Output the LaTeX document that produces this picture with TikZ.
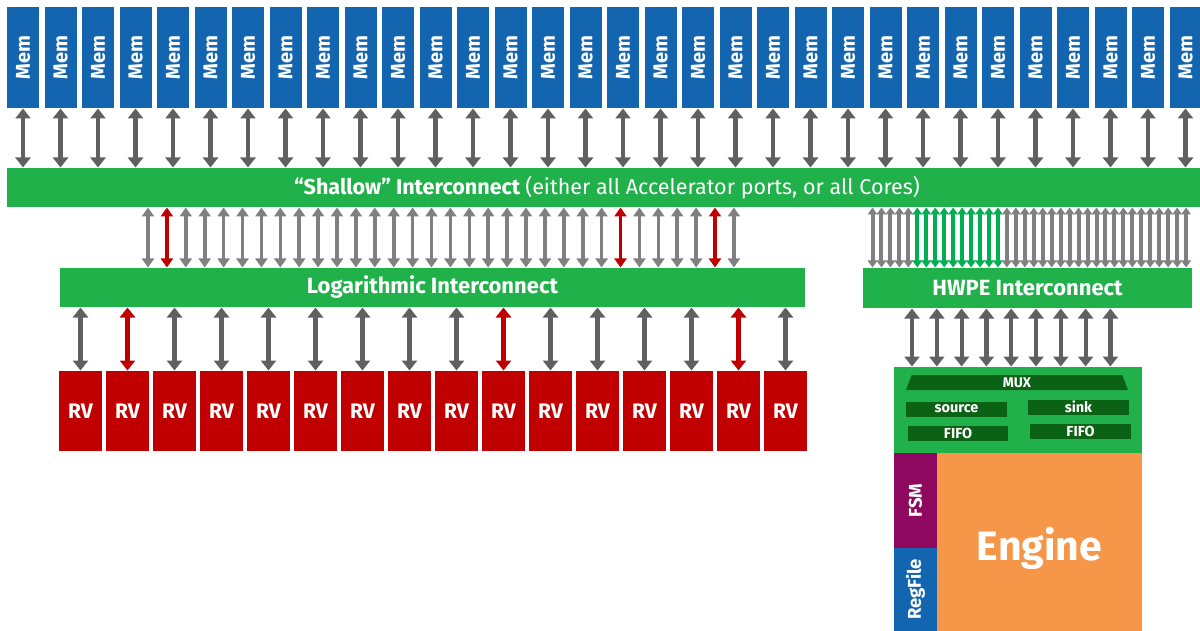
\documentclass[tikz,border=0pt]{standalone}
\usepackage{fontspec}
\setmainfont{Fira Sans}
\usetikzlibrary{arrows.meta,shapes.geometric}
\definecolor{MemBlue}{RGB}{20,101,176}
\definecolor{NetGreen}{RGB}{33,177,75}
\definecolor{LinkGreen}{RGB}{0,176,80}
\definecolor{DeepGreen}{RGB}{12,98,20}
\definecolor{CoreRed}{RGB}{192,0,0}
\definecolor{LinkDark}{RGB}{96,96,96}
\definecolor{LinkLight}{RGB}{128,128,128}
\definecolor{FsmPurple}{RGB}{142,8,96}
\definecolor{EngOrange}{RGB}{246,150,72}
\newcommand{\fsz}[1]{\fontsize{#1}{#1}\selectfont}
\tikzset{
    soc/diagram/.style={
        x=1pt, y=-1pt,
        every node/.style={inner sep=0pt, outer sep=0pt, text=white, font=\bfseries}
    },
    soc/block/.style={draw=none, rectangle},
    soc/mem/.style={soc/block, fill=MemBlue, minimum width=32pt, minimum height=101pt, font=\bfseries\fsz{20}},
    soc/core/.style={soc/block, fill=CoreRed, minimum width=43pt, minimum height=80pt, font=\bfseries\fsz{21}},
    soc/net/.style={soc/block, fill=NetGreen, minimum height=39pt, font=\bfseries\fsz{22}},
    soc/fifo/.style={soc/block, fill=DeepGreen, minimum width=101pt, minimum height=15pt, font=\bfseries\fsz{14.5}},
    soc/side/.style={soc/block, minimum width=43pt, font=\bfseries\fsz{18.5}},
    soc/link/.style={
        line width=4.2pt, shorten >=0.5pt, shorten <=0.5pt,
        {Triangle[length=10pt, width=15pt]}-{Triangle[length=10pt, width=15pt]}
    },
    soc/thin/.style={
        line width=3.6pt, shorten >=0.5pt, shorten <=0.5pt,
        {Triangle[length=9pt, width=12pt]}-{Triangle[length=9pt, width=12pt]}
    },
    soc/port/.style={
        line width=4pt, shorten >=0.5pt, shorten <=0.5pt,
        {Triangle[length=7pt, width=9.5pt]}-{Triangle[length=7pt, width=9.5pt]}
    }
}

\begin{document}
\begin{tikzpicture}[soc/diagram]
    \clip (0,0) rectangle (1200,631);
    % memory banks and the shallow crossbar
    \foreach \i in {1,...,32}
        \node[soc/mem] (mem\i) at ({23+37.5*(\i-1)},57.5) {\rotatebox{90}{Mem}};
    \node[soc/net, minimum width=1200pt, font=\bfseries\fsz{21.5}] (shallow) at (607,187.5)
        {``Shallow'' Interconnect \mdseries(either all Accelerator ports, or all Cores)};
    \foreach \i in {1,...,32}
        \draw[soc/link, draw=LinkDark, fill=LinkDark] (mem\i.south) -- (mem\i.south |- shallow.north);

    % cluster side
    \node[soc/net, minimum width=745pt] (logic) at (432.5,287.5) {Logarithmic Interconnect};
    \foreach \k in {0,...,31}{
        \def\col{LinkLight}
        \ifnum\k=1 \def\col{CoreRed}\fi
        \ifnum\k=25 \def\col{CoreRed}\fi
        \ifnum\k=30 \def\col{CoreRed}\fi
        \draw[soc/thin, draw=\col, fill=\col]
            ({148+18.9*\k},0 |- shallow.south) -- ({148+18.9*\k},0 |- logic.north);
    }
    \foreach \i in {1,...,16}
        \node[soc/core] (rv\i) at ({80.5+47*(\i-1)},411) {RV};
    \foreach \i in {1,...,16}{
        \def\col{LinkDark}
        \ifnum\i=2 \def\col{CoreRed}\fi
        \ifnum\i=10 \def\col{CoreRed}\fi
        \ifnum\i=15 \def\col{CoreRed}\fi
        \draw[soc/link, draw=\col, fill=\col] (rv\i.north) -- (rv\i.north |- logic.south);
    }

    % accelerator side
    \node[soc/net, minimum width=329pt, minimum height=40pt] (hwpe) at (1027.5,288) {HWPE Interconnect};
    \foreach \k in {0,...,35}{
        \def\col{LinkLight}
        \ifnum\k>4 \ifnum\k<15 \def\col{LinkGreen}\fi\fi
        \draw[soc/port, draw=\col, fill=\col]
            ({872.5+8.96*\k},0 |- shallow.south) -- ({872.5+8.96*\k},0 |- hwpe.north);
    }
    \node[soc/block, fill=NetGreen, minimum width=248pt, minimum height=86pt] (streamer) at (1018,410) {};
    \foreach \k in {0,...,8}
        \draw[soc/link, draw=LinkDark, fill=LinkDark]
            ({912+24.8*\k},0 |- hwpe.south) -- ({912+24.8*\k},0 |- streamer.north);
    \node[trapezium, trapezium angle=60, trapezium stretches body, fill=DeepGreen,
        minimum width=222pt, minimum height=15pt, font=\bfseries\fsz{14}] (mux) at (1017,382.5) {MUX};
    \node[soc/fifo] (src) at (956.5,409) {source};
    \node[soc/fifo, minimum width=100pt] (srcfifo) at (958,433.5) {FIFO};
    \node[soc/fifo] (sink) at (1078.5,407) {sink};
    \node[soc/fifo] (sinkfifo) at (1080.5,431.5) {FIFO};
    \node[soc/side, fill=FsmPurple, minimum height=95pt] (fsm) at (915.5,500.5) {\rotatebox{90}{FSM}};
    \node[soc/side, fill=MemBlue, minimum height=83pt] (regfile) at (915.5,589.5) {\rotatebox{90}{RegFile}};
    \node[soc/block, fill=EngOrange, minimum width=205pt, minimum height=178pt] (engine) at (1039.5,542) {};
    \node[font=\bfseries\fsz{41}] (enginetxt) at ([yshift=-6pt]engine.center) {Engine};
\end{tikzpicture}
\end{document}
